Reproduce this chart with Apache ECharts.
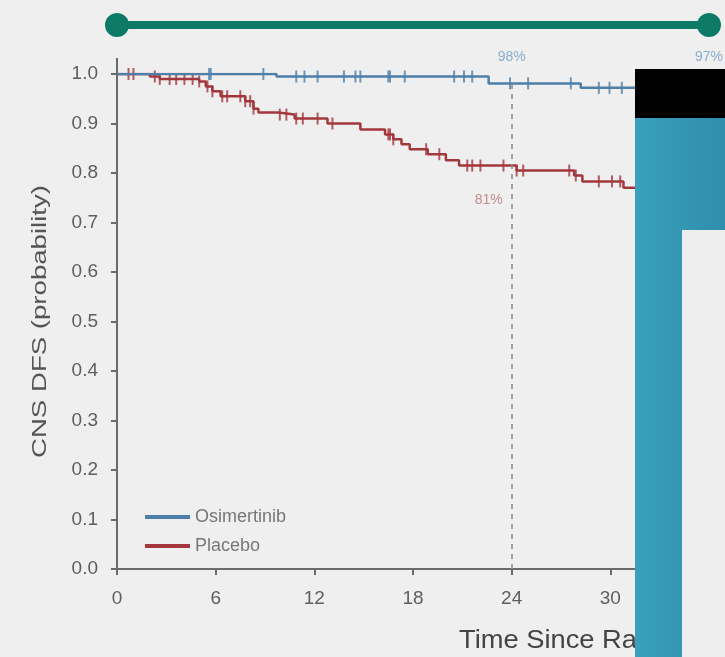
<!DOCTYPE html>
<html>
<head>
<meta charset="utf-8">
<script src="https://cdn.jsdelivr.net/npm/echarts@6/dist/echarts.min.js"></script>
<style>
  html, body { margin: 0; padding: 0; background: #efefef; }
  #main { width: 725px; height: 657px; }
</style>
</head>
<body>
<div id="main"></div>
<script>
// Kaplan-Meier: CNS DFS, osimertinib vs placebo
var seriesNames = ['Osimertinib', 'Placebo'];

var osiTime = [0, 9.7, 22.6, 28.2, 36];
var osiSurv = [1.0, 0.995, 0.981, 0.972, 0.97];
var osiCensor = [5.6, 5.7, 8.9, 10.9, 11.4, 12.2, 13.8, 14.5, 14.8, 16.5, 16.6, 17.5,
  20.5, 21.1, 21.6, 23.9, 25.0, 27.6, 29.3, 29.95, 30.7];

var pboTime = [0, 2.0, 2.6, 5.0, 5.4, 5.8, 6.3, 7.8, 8.3, 8.6, 9.8, 10.8, 12.8, 14.8,
  16.3, 16.8, 17.3, 17.8, 18.9, 20.0, 20.8, 24.3, 27.8, 28.3, 30.8, 32];
var pboSurv = [1.0, 0.995, 0.99, 0.985, 0.975, 0.965, 0.955, 0.945, 0.93, 0.922, 0.918,
  0.91, 0.90, 0.888, 0.878, 0.868, 0.858, 0.848, 0.838, 0.826, 0.815, 0.805, 0.795,
  0.783, 0.77, 0.77];
var pboCensor = [0.7, 1.0, 2.3, 2.6, 3.2, 3.6, 4.1, 4.6, 5.0, 5.5, 5.8, 6.4, 6.7, 7.5,
  7.8, 8.1, 8.3, 9.9, 10.3, 10.9, 11.3, 12.2, 13.1, 16.5, 16.6, 16.8, 18.8, 19.6, 21.3,
  21.6, 22.1, 23.5, 24.3, 24.7, 27.5, 27.9, 29.3, 30.1, 30.6];

var landmark = 24;
var pctLabels = [
  { text: '98%', x: 24, y: 1.034, color: '#8aaed0' },
  { text: '97%', x: 36, y: 1.034, color: '#8aaed0' },
  { text: '81%', x: 22.6, y: 0.745, color: '#c98a8e' }
];

var blue = '#4e7fa9';
var red = '#a3373d';
var axisGrey = '#6b6b6b';
var font = 'Liberation Sans, Arial, sans-serif';

function pairs(t, s) {
  return t.map(function (v, i) { return [v, s[i]]; });
}
function stepAt(t, s, x) {
  var v = s[0];
  for (var i = 0; i < t.length; i++) if (t[i] <= x) v = s[i];
  return v;
}
function censorPts(c, t, s) {
  return c.map(function (x) { return [x, stepAt(t, s, x)]; });
}

var chart = echarts.init(document.getElementById('main'));

var option = {
  backgroundColor: '#efefef',
  animation: false,
  grid: { left: 117, right: 16, top: 74, bottom: 88 },
  legend: {
    data: seriesNames,
    orient: 'vertical',
    left: 140,
    top: 503,
    icon: 'rect',
    itemWidth: 45,
    itemHeight: 4,
    itemGap: 11,
    textStyle: { fontSize: 18, color: '#777', fontFamily: font }
  },
  xAxis: {
    type: 'value',
    min: 0,
    max: 36,
    interval: 6,
    splitLine: { show: false },
    axisLine: { lineStyle: { color: axisGrey, width: 2 } },
    axisTick: { length: 6, lineStyle: { color: axisGrey, width: 2 } },
    axisLabel: { margin: 20, fontSize: 19, color: '#5e5e5e', fontFamily: font }
  },
  yAxis: {
    type: 'value',
    min: 0,
    max: 1,
    interval: 0.1,
    splitLine: { show: false },
    axisLine: { show: true, lineStyle: { color: axisGrey, width: 2 } },
    axisTick: { show: true, length: 6, lineStyle: { color: axisGrey, width: 2 } },
    axisLabel: {
      margin: 19, fontSize: 19, color: '#5e5e5e', fontFamily: font,
      formatter: function (v) { return v.toFixed(1); }
    }
  },
  series: [
    {
      name: 'Osimertinib',
      type: 'line',
      step: 'end',
      data: pairs(osiTime, osiSurv),
      showSymbol: false,
      itemStyle: { color: blue },
      lineStyle: { color: blue, width: 2.5 },
      z: 4
    },
    {
      name: 'Placebo',
      type: 'line',
      step: 'end',
      data: pairs(pboTime, pboSurv),
      showSymbol: false,
      itemStyle: { color: red },
      lineStyle: { color: red, width: 2.5 },
      z: 3,
      markLine: {
        silent: true,
        symbol: 'none',
        label: { show: false },
        lineStyle: { color: '#8a8a8a', type: [5, 5], width: 1.5 },
        data: [[{ coord: [landmark, 0] }, { coord: [landmark, stepAt(osiTime, osiSurv, landmark)] }]]
      }
    },
    {
      name: 'Osimertinib censored',
      type: 'scatter',
      data: censorPts(osiCensor, osiTime, osiSurv),
      symbol: 'rect',
      symbolSize: [2, 12],
      itemStyle: { color: blue },
      z: 4
    },
    {
      name: 'Placebo censored',
      type: 'scatter',
      data: censorPts(pboCensor, pboTime, pboSurv),
      symbol: 'rect',
      symbolSize: [2, 12],
      itemStyle: { color: red },
      z: 3
    }
  ]
};

chart.setOption(option);

// annotations and overlay placed from axis coordinates
var p0 = chart.convertToPixel({ gridIndex: 0 }, [0, 1]);
var p36 = chart.convertToPixel({ gridIndex: 0 }, [36, 1]);
var pBottom = chart.convertToPixel({ gridIndex: 0 }, [0, 0]);

var graphics = [];

// timeline bar on top
graphics.push({
  type: 'line',
  shape: { x1: p0[0], y1: 25, x2: p36[0], y2: 25 },
  style: { stroke: '#0d7a68', lineWidth: 8 },
  z: 10
});
[p0[0], p36[0]].forEach(function (x) {
  graphics.push({
    type: 'circle',
    shape: { cx: x, cy: 25, r: 12 },
    style: { fill: '#0d7a68' },
    z: 11
  });
});

// y axis extends a little above 1.0
graphics.push({
  type: 'line',
  shape: { x1: p0[0], y1: p0[1] - 16, x2: p0[0], y2: p0[1] },
  style: { stroke: axisGrey, lineWidth: 2 },
  z: 10
});

// axis titles
graphics.push({
  type: 'text',
  x: 40,
  y: (p0[1] + pBottom[1]) / 2,
  rotation: Math.PI / 2,
  scaleX: 1.38,
  style: {
    text: 'CNS DFS (probability)',
    fill: '#555',
    font: '20px ' + font,
    textAlign: 'center',
    textVerticalAlign: 'middle'
  },
  z: 10
});
graphics.push({
  type: 'text',
  x: 459,
  y: 641,
  scaleX: 1.05,
  style: {
    text: 'Time Since Randomization (months)',
    fill: '#444',
    font: '26px ' + font,
    textAlign: 'left',
    textVerticalAlign: 'middle'
  },
  z: 10
});

pctLabels.forEach(function (l) {
  var p = chart.convertToPixel({ gridIndex: 0 }, [l.x, l.y]);
  graphics.push({
    type: 'text',
    x: p[0],
    y: p[1],
    style: {
      text: l.text,
      fill: l.color,
      font: '14px ' + font,
      textAlign: 'center',
      textVerticalAlign: 'middle'
    },
    z: 10
  });
});

// covering panels on the right
graphics.push({
  type: 'rect',
  shape: { x: 635, y: 118, width: 90, height: 539 },
  style: {
    fill: new echarts.graphic.LinearGradient(0, 0, 1, 0, [
      { offset: 0, color: '#3aa0bb' },
      { offset: 1, color: '#2f8eab' }
    ])
  },
  z: 50
});
graphics.push({
  type: 'rect',
  shape: { x: 635, y: 69, width: 90, height: 49 },
  style: { fill: '#000' },
  z: 51
});
graphics.push({
  type: 'rect',
  shape: { x: 682, y: 230, width: 43, height: 427 },
  style: { fill: '#eeeeee' },
  z: 52
});

chart.setOption({ graphic: graphics });
</script>
</body>
</html>
